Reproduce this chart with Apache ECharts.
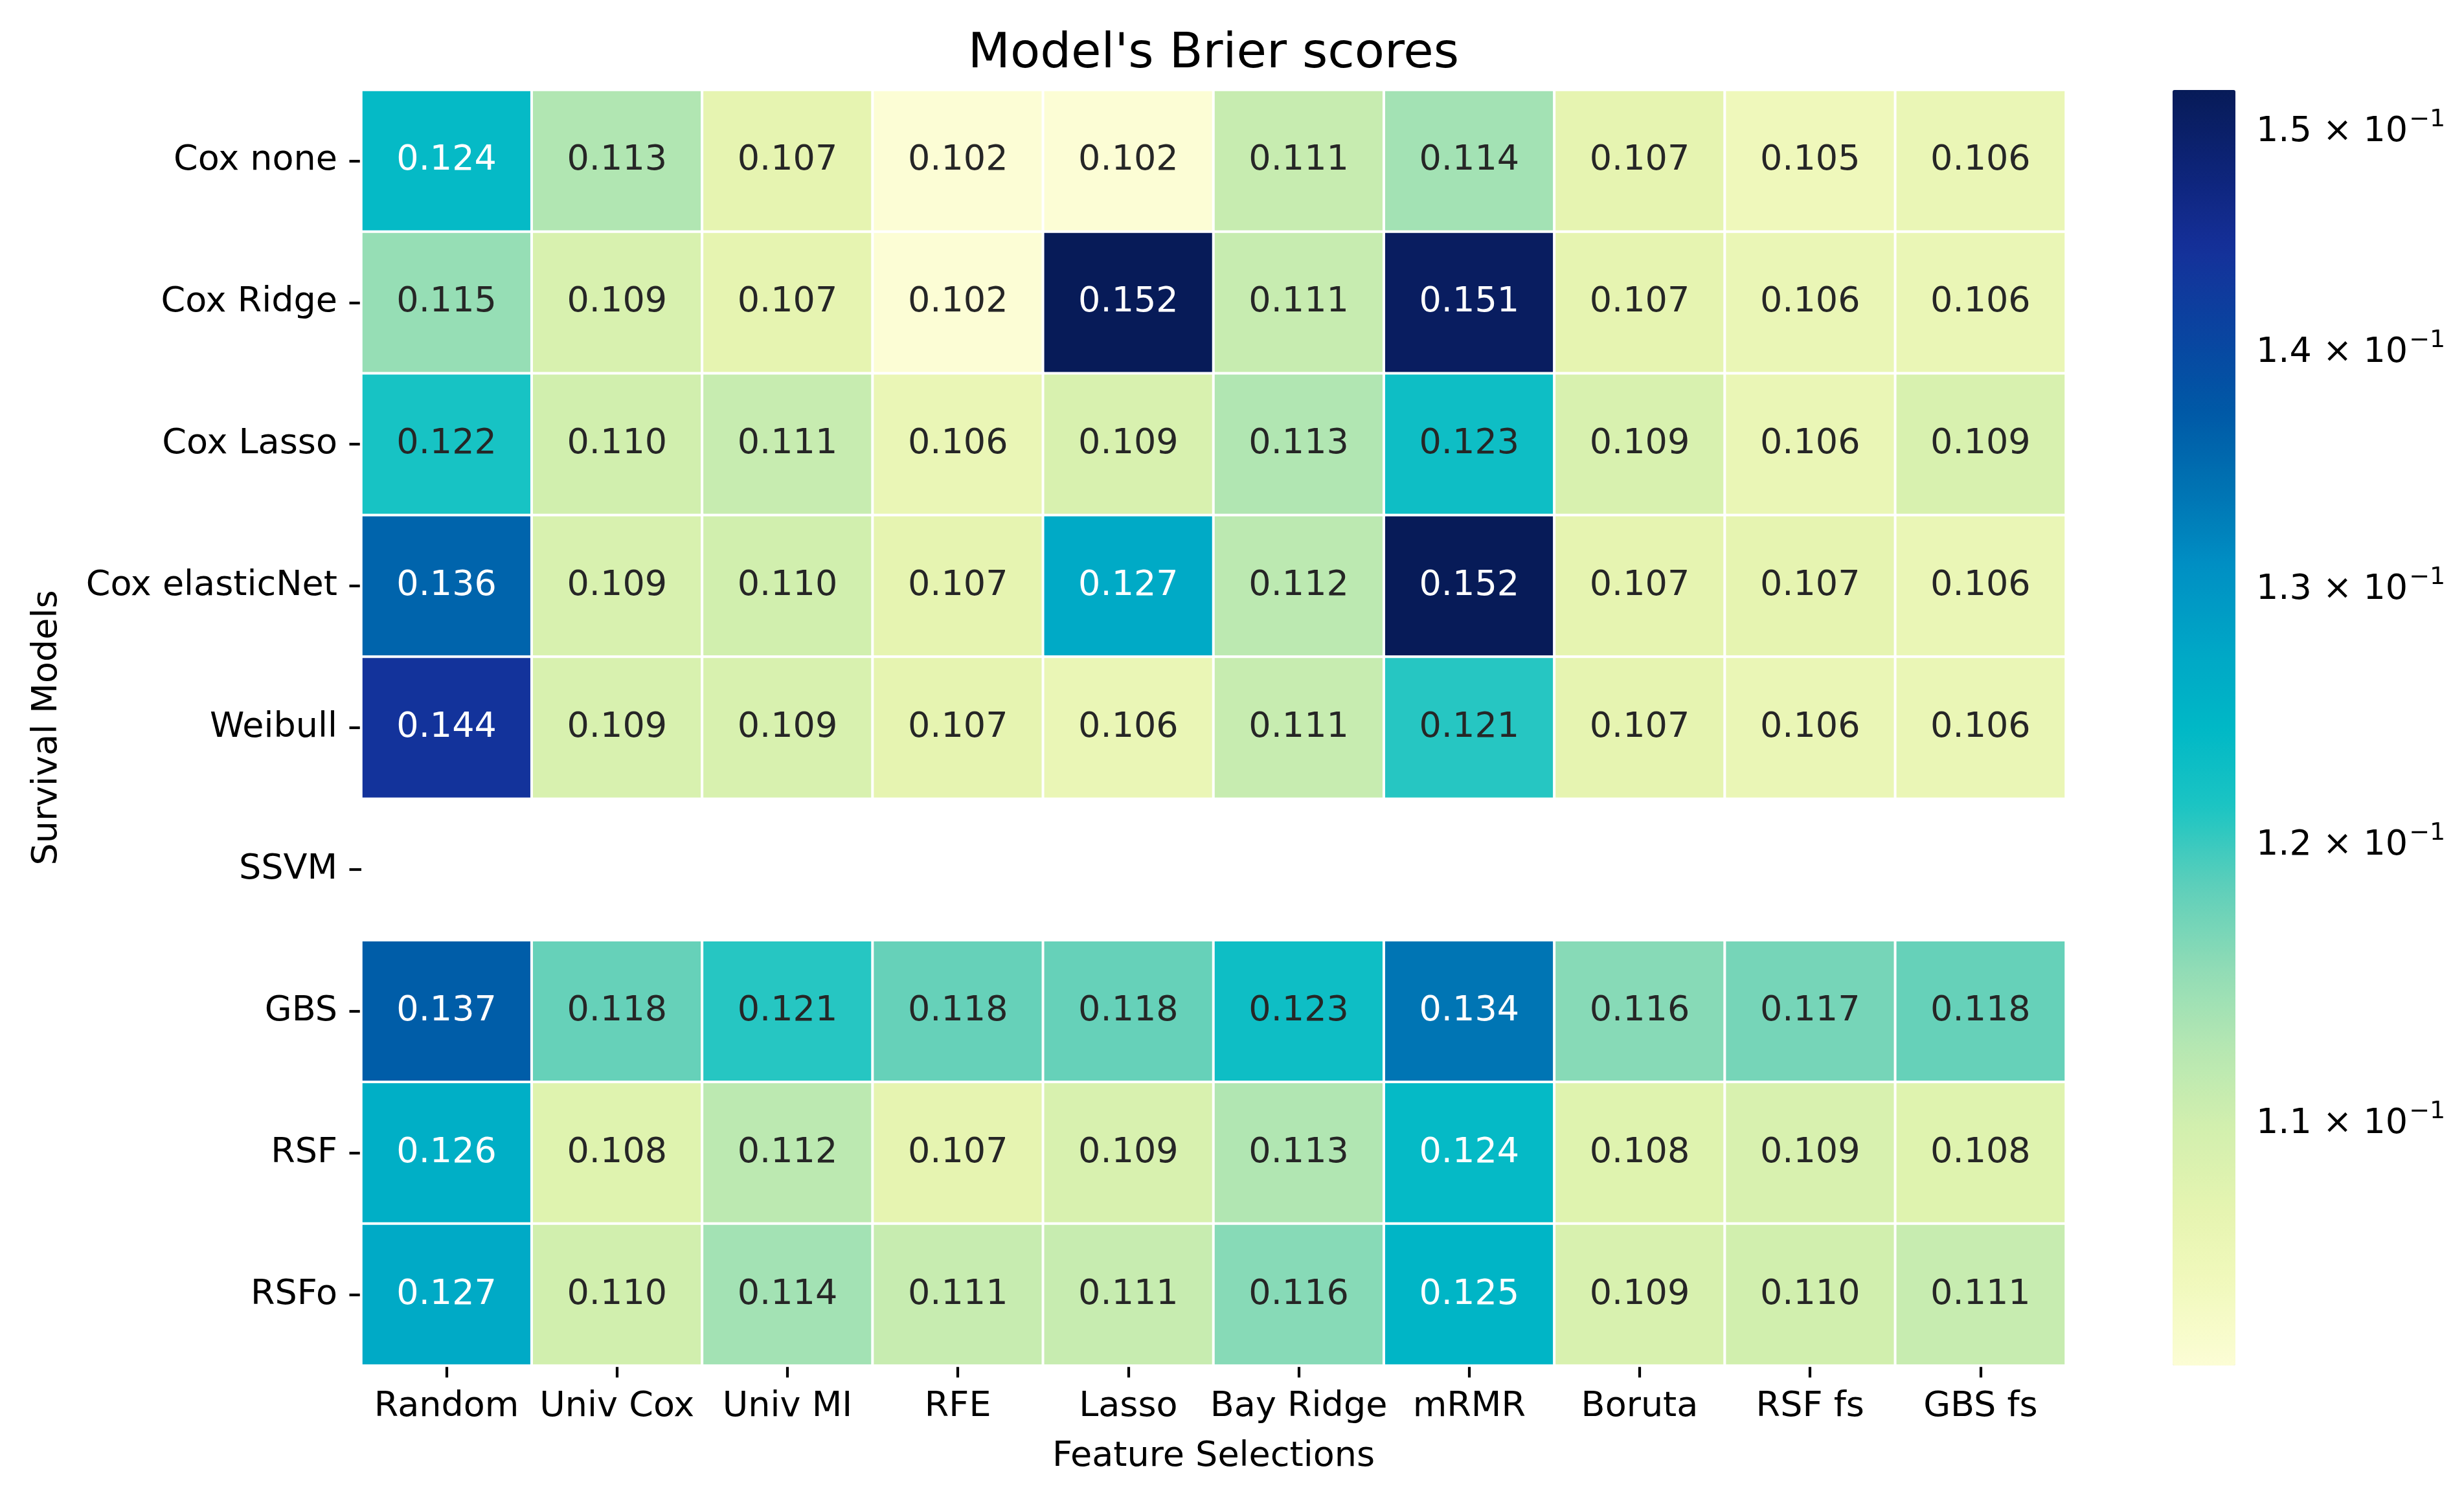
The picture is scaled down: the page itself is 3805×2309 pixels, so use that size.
<!DOCTYPE html>
<html>
<head>
<meta charset="utf-8">
<script src="https://cdn.jsdelivr.net/npm/echarts@6/dist/echarts.min.js"></script>
<style>
html,body{margin:0;padding:0;background:#fff;}
#chart{width:3805px;height:2309px;}
</style>
</head>
<body>
<div id="chart"></div>
<script>
// ---- data ----
const featureSelections = ['Random', 'Univ Cox', 'Univ MI', 'RFE', 'Lasso', 'Bay Ridge', 'mRMR', 'Boruta', 'RSF fs', 'GBS fs'];
const survivalModels = ['Cox none', 'Cox Ridge', 'Cox Lasso', 'Cox elasticNet', 'Weibull', 'SSVM', 'GBS', 'RSF', 'RSFo'];

const coxNone       = [0.124, 0.113, 0.107, 0.102, 0.102, 0.111, 0.114, 0.107, 0.105, 0.106];
const coxRidge      = [0.115, 0.109, 0.107, 0.102, 0.152, 0.111, 0.151, 0.107, 0.106, 0.106];
const coxLasso      = [0.122, 0.110, 0.111, 0.106, 0.109, 0.113, 0.123, 0.109, 0.106, 0.109];
const coxElasticNet = [0.136, 0.109, 0.110, 0.107, 0.127, 0.112, 0.152, 0.107, 0.107, 0.106];
const weibull       = [0.144, 0.109, 0.109, 0.107, 0.106, 0.111, 0.121, 0.107, 0.106, 0.106];
const ssvm          = [null, null, null, null, null, null, null, null, null, null];
const gbs           = [0.137, 0.118, 0.121, 0.118, 0.118, 0.123, 0.134, 0.116, 0.117, 0.118];
const rsf           = [0.126, 0.108, 0.112, 0.107, 0.109, 0.113, 0.124, 0.108, 0.109, 0.108];
const rsfo          = [0.127, 0.110, 0.114, 0.111, 0.111, 0.116, 0.125, 0.109, 0.110, 0.111];

const colorbarTicks = [0.11, 0.12, 0.13, 0.14, 0.15];

// ---- build ----
const rows = [coxNone, coxRidge, coxLasso, coxElasticNet, weibull, ssvm, gbs, rsf, rsfo];
const allVals = rows.flat().filter(v => v !== null);
const vmin = Math.min(...allVals);
const vmax = Math.max(...allVals);
const lmin = Math.log10(vmin), lmax = Math.log10(vmax);

const FONT = 'DejaVu Sans';
const FS = 54;

const heatData = [];
rows.forEach((row, yi) => {
  row.forEach((v, xi) => {
    if (v === null) return;
    heatData.push({
      value: [xi, yi, v, Math.log10(v)],
      label: { color: v >= 0.1235 ? '#ffffff' : '#262626' }
    });
  });
});

const cmap = ['#fcfdd5', '#f1f9bd', '#e5f4b0', '#d2efae', '#b5e7b2', '#8fdcb6', '#5ecfba', '#1cc5c3',
              '#00b8c6', '#00a6c6', '#0090c4', '#0073b3', '#0058a6', '#0a43a0', '#15309a', '#0d2478', '#071b58'];

const GL = 558, GT = 139, GW = 2632, GH = 1970;
const CBL = 3355, CBW = 97;

const chart = echarts.init(document.getElementById('chart'), null, { renderer: 'canvas' });
chart.setOption({
  animation: false,
  backgroundColor: '#ffffff',
  textStyle: { fontFamily: FONT },
  title: {
    text: "Model's Brier scores",
    left: GL + GW / 2 - 5,
    top: 41,
    textAlign: 'center',
    textStyle: { fontFamily: FONT, fontSize: 75.5, fontWeight: 'normal', color: '#000' }
  },
  grid: [
    { left: GL, top: GT, width: GW, height: GH, containLabel: false },
    { left: CBL, top: GT, width: CBW, height: GH, containLabel: false }
  ],
  xAxis: [
    {
      type: 'category', gridIndex: 0, data: featureSelections, position: 'bottom',
      axisLine: { show: false },
      axisTick: { show: true, alignWithLabel: true, length: 18.5, lineStyle: { color: '#000', width: 4.2 } },
      axisLabel: { margin: 37, fontSize: FS, fontFamily: FONT, color: '#000', interval: 0 },
      splitLine: { show: false },
      name: 'Feature Selections', nameLocation: 'middle', nameGap: 114,
      nameTextStyle: { fontSize: FS, fontFamily: FONT, color: '#000' }
    },
    { type: 'value', gridIndex: 1, show: false, min: 0, max: 1 }
  ],
  yAxis: [
    {
      type: 'category', gridIndex: 0, data: survivalModels, inverse: true,
      axisLine: { show: false },
      axisTick: { show: true, alignWithLabel: true, length: 18.5, lineStyle: { color: '#000', width: 4.2 } },
      axisLabel: { margin: 37, fontSize: FS, fontFamily: FONT, color: '#000', interval: 0 },
      splitLine: { show: false },
      name: 'Survival Models', nameLocation: 'middle', nameGap: 458, nameRotate: 90,
      nameTextStyle: { fontSize: FS, fontFamily: FONT, color: '#000' }
    },
    {
      type: 'value', gridIndex: 1, position: 'right', min: lmin, max: lmax,
      axisLine: { show: false },
      splitLine: { show: false },
      axisTick: { show: true, length: 10.6, lineStyle: { color: '#000', width: 3.2 },
                  customValues: colorbarTicks.map(v => Math.log10(v)) },
      axisLabel: {
        margin: 32, color: '#000', fontFamily: FONT,
        customValues: colorbarTicks.map(v => Math.log10(v)),
        formatter: function (val) {
          const m = (Math.pow(10, val) * 10).toFixed(1);
          return '{m|' + m + ' × 10}{s|−1}';
        },
        rich: {
          m: { fontSize: FS, fontFamily: FONT, color: '#000' },
          s: { fontSize: 38, fontFamily: FONT, color: '#000', padding: [0, 0, 38, 2] }
        }
      }
    }
  ],
  visualMap: {
    type: 'continuous',
    seriesIndex: 0,
    dimension: 3,
    min: lmin,
    max: lmax,
    calculable: false,
    orient: 'vertical',
    left: CBL,
    top: GT,
    itemWidth: CBW,
    itemHeight: GH,
    padding: 0,
    text: null,
    inRange: { color: cmap }
  },
  series: [{
    type: 'heatmap',
    xAxisIndex: 0,
    yAxisIndex: 0,
    data: heatData,
    itemStyle: { borderColor: '#ffffff', borderWidth: 4 },
    label: {
      show: true,
      fontSize: FS,
      fontFamily: FONT,
      formatter: p => p.value[2].toFixed(3)
    },
    emphasis: { disabled: true }
  }]
});
</script>
</body>
</html>
